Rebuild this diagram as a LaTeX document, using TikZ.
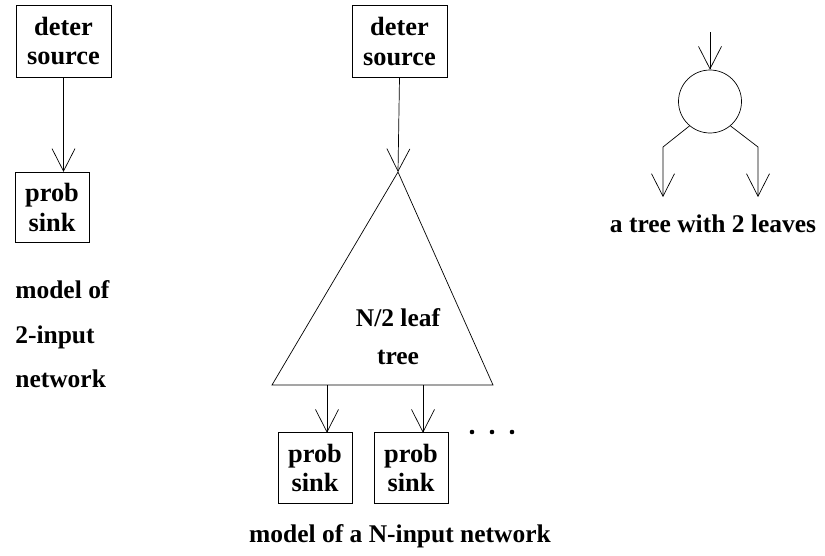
\documentclass[tikz,border=0pt]{standalone}
\usepackage{fontspec}
\setmainfont{Liberation Serif}
\usepackage{tikz}
\usetikzlibrary{positioning, arrows.meta, calc}
\newcommand{\boxfont}{\fontsize{15}{17}\selectfont\bfseries}
\newcommand{\capfont}{\fontsize{14.5}{25.5}\selectfont\bfseries}
\newcommand{\treefont}{\fontsize{14.5}{21.5}\selectfont\bfseries}
\tikzset{
  unitbox/.style={draw, thin, minimum width=1.9cm, minimum height=1.44cm, align=center, font=\boxfont, inner sep=0pt},
  sinkbox/.style={draw, thin, minimum width=1.48cm, minimum height=1.41cm, align=center, font=\boxfont, inner sep=0pt},
  vee/.style={-{Straight Barb[length=4.5mm, width=4.6mm]}, thin},
}

\begin{document}
\begin{tikzpicture}[scale=1.0]
  \useasboundingbox (0,0) rectangle (16.5,11.1);
  % 2-input network
  \node[unitbox] (src1) at (1.27,10.28) {deter\\source};
  \node[sinkbox] (sink1) at (1.04,6.95) {prob\\sink};
  \draw[vee] (src1.south) -- (src1.south |- sink1.north);
  \node[anchor=north west, align=left, font=\capfont, inner sep=0pt] (cap1) at (0.3,5.5) {model of\\2-input\\network};
  % N-input network
  \node[unitbox] (src2) at (7.99,10.27) {deter\\source};
  \coordinate (apex) at (7.96,7.66);
  \coordinate (bl) at (5.44,3.4);
  \coordinate (br) at (9.86,3.4);
  \draw[thin] (apex) -- (bl) -- (br) -- cycle;
  \draw[vee] (src2.south) -- (apex);
  \node[align=center, font=\treefont, inner sep=0pt] (tree) at (7.96,4.36) {N/2 leaf\\tree};
  \node[sinkbox] (sink2) at (6.3,1.74) {prob\\sink};
  \node[sinkbox] (sink3) at (8.22,1.74) {prob\\sink};
  \foreach \s/\x in {sink2/6.54, sink3/8.46}
    \draw[vee] (\x,3.4) -- (\x,2.445);
  \foreach \x [count=\i] in {9.44, 9.84, 10.24}
    \fill (\x,2.46) circle (1.3pt) coordinate (dot\i);
  \node[font=\capfont, inner sep=0pt] (cap2) at (8.0,0.38) {model of a N-input network};
  % a tree with 2 leaves
  \node[draw, thin, circle, minimum size=1.26cm, inner sep=0pt] (root) at (14.2,9.07) {};
  \coordinate (in) at (14.2,10.46);
  \coordinate (lk) at (13.26,8.16);
  \coordinate (rk) at (15.16,8.16);
  \coordinate (lleaf) at (13.26,7.16);
  \coordinate (rleaf) at (15.16,7.16);
  \draw[vee] (in) -- (root.north);
  \draw[vee] (root.230) -- (lk) -- (lleaf);
  \draw[vee] (root.310) -- (rk) -- (rleaf);
  \node[font=\capfont, inner sep=0pt] (cap3) at (14.26,6.62) {a tree with 2 leaves};
\end{tikzpicture}
\end{document}
